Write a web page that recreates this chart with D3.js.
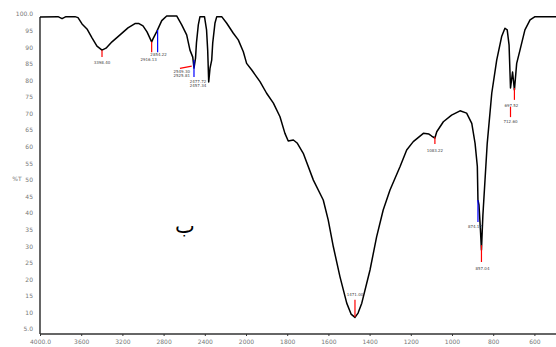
<!DOCTYPE html>
<html>
<head>
<meta charset="utf-8">
<script src="https://cdn.jsdelivr.net/npm/d3@7"></script>
<style>
  body { margin: 0; background: #fff; }
  svg { display: block; }
  .tick text { font-family: "DejaVu Sans", sans-serif; font-size: 6px; fill: #777; }
</style>
</head>
<body>
<svg id="chart" width="556" height="347"></svg>
<script>
// spectrum trace (wavenumber in cm-1, %T)
const wavenumbers = [4000, 3825, 3786, 3748, 3660, 3631, 3592, 3544, 3495, 3447, 3398, 3359, 3301, 3223, 3146, 3078,
  3039, 3000, 2961, 2916, 2903, 2867, 2818, 2770, 2673, 2624, 2576, 2544, 2517, 2505, 2490, 2481, 2463, 2447, 2403,
  2383, 2372, 2362, 2349, 2333, 2323, 2301, 2284, 2236, 2187, 2123, 2075, 2026, 1997, 1972, 1932, 1900, 1867, 1835,
  1811, 1795, 1770, 1752, 1722, 1673, 1625, 1601, 1576, 1544, 1511, 1490, 1471, 1456, 1438, 1398, 1366, 1334, 1301,
  1252, 1220, 1188, 1139, 1112, 1099, 1083, 1074, 1042, 1002, 961, 929, 904, 888, 877, 874, 869, 862, 857, 850, 829,
  807, 783, 759, 743, 732, 723, 716, 706, 697, 686, 670, 646, 621, 597, 450];
const transmittance = [99.1, 99.2, 98.6, 99.2, 99.2, 98.9, 97.0, 95.5, 92.8, 90.3, 89.1, 89.7, 91.6, 93.7, 95.8, 97.1,
  97.1, 96.4, 94.6, 91.6, 92.5, 94.7, 98.0, 99.4, 99.4, 96.7, 93.7, 89.1, 87.0, 83.7, 86.7, 91.3, 96.7, 99.2, 99.2,
  95.2, 89.1, 79.5, 83.7, 86.1, 91.3, 97.3, 99.2, 99.2, 97.2, 94.2, 92.2, 88.6, 85.1, 83.1, 79.6, 76.1, 73.1, 69.0,
  64.0, 61.7, 62.0, 61.1, 58.0, 49.9, 43.9, 37.9, 29.8, 20.8, 12.8, 9.5, 8.5, 9.8, 12.8, 22.8, 32.8, 40.9, 46.9,
  54.0, 59.0, 61.5, 64.0, 63.8, 63.2, 62.6, 64.5, 67.5, 69.5, 70.8, 70.1, 67.0, 61.0, 54.0, 43.9, 42.4, 34.9, 28.8, 39.4, 61.0,
  76.1, 86.1, 93.2, 95.7, 95.2, 90.7, 77.7, 82.5, 77.1, 85.1, 89.1, 95.2, 98.2, 99.2, 99.2];

// axis ticks
const xTicks = [4000, 3600, 3200, 2800, 2400, 2000, 1800, 1600, 1400, 1200, 1000, 800, 600, 450];
const xTickLabels = ["4000.0", "3600", "3200", "2800", "2400", "2000", "1800", "1600", "1400", "1200", "1000", "800", "600", "450.0"];
const yTicks = [100, 95, 90, 85, 80, 75, 70, 65, 60, 55, 50, 45, 40, 35, 30, 25, 20, 15, 10, 5];
const yTickLabels = ["100.0", "95", "90", "85", "80", "75", "70", "65", "60", "55", "50", "45", "40", "35", "30", "25", "20", "15", "10", "5.0"];

// peak picks: start/end point of each marker (wavenumber, %T), colour and label lines
const peakWn1 = [3398, 2916, 2858, 2641, 2505, 1471, 1083, 874, 857, 697, 716];
const peakT1  = [89.1, 91.6, 95.2, 83.6, 86.1, 8.6, 62.9, 43.9, 30.3, 77.7, 72.0];
const peakWn2 = [3398, 2916, 2858, 2527, 2505, 1471, 1083, 874, 857, 697, 716];
const peakT2  = [87.0, 88.5, 88.5, 84.3, 81.0, 13.8, 60.8, 37.3, 25.2, 74.1, 68.9];
const peakColor = ["red", "red", "blue", "red", "blue", "red", "red", "blue", "red", "red", "red"];
const peakLabels = [["3398.40"], ["2916.13"], ["2854.22"], ["2549.30", "2525.81"], ["2477.72", "2457.34"],
  ["1471.00"], ["1083.22"], ["874.17"], ["857.04"], ["697.52"], ["712.60"]];

const svg = d3.select('#chart');
const plotLeft = 40, plotTop = 14, axisY = 334;

// instrument scale changes at 2000 cm-1
const x = d3.scaleLinear().domain([4000, 2000, 450]).range([plotLeft, 246, 565.3]);
const y = d3.scaleLinear().domain([5, 100]).range([329, plotTop]);

// bottom axis
const xAxis = svg.append('g')
  .attr('transform', `translate(0,${axisY})`)
  .call(d3.axisBottom(x).tickValues(xTicks).tickSize(2).tickPadding(4)
    .tickFormat((d, i) => xTickLabels[i]));
xAxis.select('.domain').attr('stroke', '#333').attr('stroke-width', 1.5)
  .attr('d', `M${plotLeft},0H${x(450)}`);
xAxis.selectAll('.tick line').attr('stroke', '#333');

// left axis
const yAxis = svg.append('g')
  .attr('transform', `translate(${plotLeft},0)`)
  .call(d3.axisLeft(y).tickValues(yTicks).tickSize(0).tickPadding(7)
    .tickFormat((d, i) => yTickLabels[i]));
yAxis.select('.domain').attr('stroke', '#333').attr('stroke-width', 1.5)
  .attr('d', `M0,${y(99.1)}V${axisY}`);

svg.append('text')
  .attr('x', 17).attr('y', 181)
  .attr('text-anchor', 'middle')
  .style('font-family', '"DejaVu Sans", sans-serif')
  .style('font-size', '6px')
  .style('fill', '#777')
  .text('%T');

// spectrum
const points = wavenumbers.map((w, i) => [w, transmittance[i]]);
svg.append('path')
  .datum(points)
  .attr('fill', 'none')
  .attr('stroke', '#000')
  .attr('stroke-width', 1.5)
  .attr('stroke-linejoin', 'round')
  .attr('d', d3.line().x(d => x(d[0])).y(d => y(d[1])));

// peak markers
const peaks = peakWn1.map((w, i) => ({
  x1: x(w), y1: y(peakT1[i]), x2: x(peakWn2[i]), y2: y(peakT2[i]),
  color: peakColor[i], label: peakLabels[i]
}));

svg.append('g').selectAll('line')
  .data(peaks)
  .enter().append('line')
  .attr('x1', d => d.x1).attr('y1', d => d.y1)
  .attr('x2', d => d.x2).attr('y2', d => d.y2)
  .style('stroke', d => d.color)
  .style('stroke-width', 1.2);

// label offsets relative to the marker end (fine placement only)
const labelShift = [[0, 4], [-3, 5.5], [1, 0.5], [-10, 4], [4, 3], [0, -4], [0, 5], [-3, 3], [1, 5], [-3, 4], [0, 3]];
const labels = svg.append('g').selectAll('text')
  .data(peaks)
  .enter().append('text')
  .attr('text-anchor', 'middle')
  .style('font-family', '"DejaVu Sans", sans-serif')
  .style('font-size', '4px')
  .style('fill', '#444')
  .attr('x', (d, i) => d.x2 + labelShift[i][0])
  .attr('y', (d, i) => d.y2 + labelShift[i][1] + (labelShift[i][1] > 0 ? 3 : 0));
labels.selectAll('tspan')
  .data(d => d.label)
  .enter().append('tspan')
  .attr('x', function () { return d3.select(this.parentNode).attr('x'); })
  .attr('dy', (d, i) => i === 0 ? 0 : 4)
  .text(d => d);

// sample letter
svg.append('text')
  .attr('x', 185).attr('y', 233)
  .attr('text-anchor', 'middle')
  .style('font-family', '"DejaVu Sans", sans-serif')
  .style('font-size', '21px')
  .style('fill', '#000')
  .text('ب');
</script>
</body>
</html>
